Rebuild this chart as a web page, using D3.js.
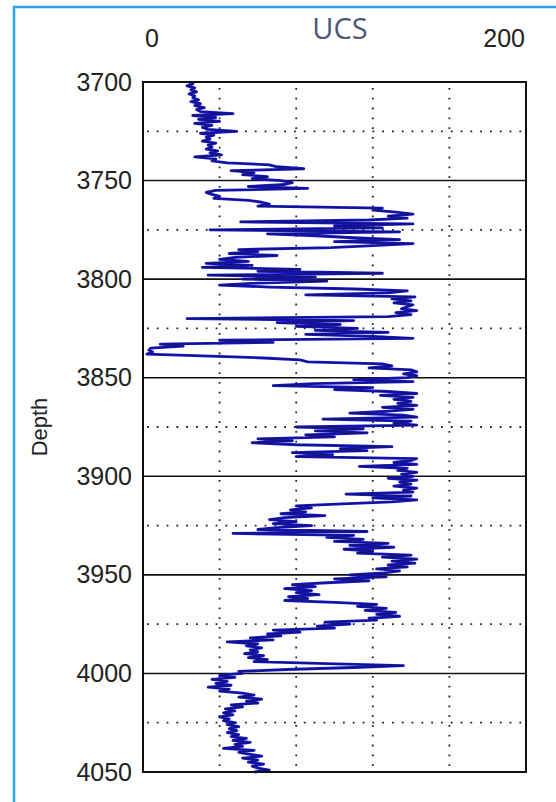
<!DOCTYPE html>
<html>
<head>
<meta charset="utf-8">
<script src="https://cdn.jsdelivr.net/npm/d3@7"></script>
<style>
  body { margin: 0; background: #fff; }
  svg { display: block; }
  .axis text { font-family: 'Liberation Sans', Arial, sans-serif; font-size: 25px; fill: #222; }
</style>
</head>
<body>
<svg id="chart" width="556" height="802"></svg>
<script>
/* global d3 */
'use strict';

// log sampling: one reading per foot, starting at the top of the interval
const depthTop = 3700;
const depthStep = 1;

// UCS readings, ten per row (3700-3709, 3710-3719, ...)
const ucsValues = [
  24, 26, 23, 27, 25, 28, 24, 27, 26, 29,
  25, 30, 27, 32, 28, 30, 47, 26, 38, 29,
  40, 27, 36, 31, 34, 49, 30, 37, 33, 35,
  31, 38, 34, 36, 33, 39, 35, 41, 27, 38,
  36, 44, 66, 70, 84, 46, 58, 52, 65, 57,
  72, 78, 74, 55, 86, 38, 33, 36, 40, 37,
  55, 62, 66, 60, 125, 120, 132, 141, 128, 138,
  118, 51, 141, 100, 125, 35, 134, 65, 90, 110,
  134, 100, 141, 120, 98, 50, 60, 45, 70, 48,
  40, 55, 33, 57, 31, 82, 60, 125, 34, 90,
  52, 96, 60, 40, 66, 111, 138, 128, 85, 142,
  130, 140, 131, 141, 138, 135, 143, 132, 140, 128,
  23, 110, 70, 103, 80, 112, 90, 128, 85, 120,
  141, 40, 68, 9, 21, 4, 3, 5, 2, 35,
  63, 82, 86, 125, 130, 118, 140, 143, 136, 143,
  138, 110, 141, 89, 68, 120, 100, 128, 143, 124,
  141, 131, 140, 133, 143, 125, 141, 128, 108, 136,
  143, 94, 140, 131, 143, 80, 115, 90, 117, 85,
  100, 60, 78, 57, 80, 130, 103, 117, 78, 99,
  80, 143, 140, 131, 143, 113, 138, 133, 143, 135,
  141, 128, 143, 134, 140, 131, 143, 136, 141, 106,
  140, 120, 143, 130, 104, 80, 88, 77, 85, 72,
  95, 74, 66, 80, 68, 88, 70, 60, 117, 47,
  110, 96, 115, 100, 128, 108, 131, 105, 120, 112,
  140, 125, 143, 130, 142, 128, 138, 122, 134, 126,
  108, 127, 100, 118, 96, 78, 90, 74, 88, 80,
  92, 76, 86, 74, 100, 122, 112, 127, 116, 132,
  122, 134, 118, 122, 95, 108, 91, 100, 68, 82,
  65, 72, 56, 68, 44, 60, 54, 62, 56, 60,
  53, 63, 55, 65, 58, 96, 136, 110, 75, 50,
  52, 40, 48, 36, 44, 38, 46, 34, 45, 40,
  52, 58, 50, 62, 54, 60, 46, 52, 43, 48,
  42, 47, 40, 45, 42, 48, 44, 50, 45, 49,
  44, 50, 46, 54, 47, 56, 48, 52, 42, 58,
  50, 56, 62, 52, 60, 55, 63, 57, 60, 66,
  58
];

// axis and grid values
const depthTicks = [3700, 3750, 3800, 3850, 3900, 3950, 4000, 4050];
const depthGridMajor = [3750, 3800, 3850, 3900, 3950, 4000];
const depthGridMinor = [3725, 3775, 3825, 3875, 3925, 3975, 4025];
const ucsGrid = [40, 80, 120, 160];
const ucsLabels = [0, 200];
const ucsDomain = [0, 200];
const depthDomain = [3700, 4050];

const svg = d3.select('#chart');

// plot box
const plotLeft = 143;
const plotTop = 82;
const plotWidth = 383;
const plotHeight = 690;

const x = d3.scaleLinear().domain(ucsDomain).range([plotLeft, plotLeft + plotWidth]);
const y = d3.scaleLinear().domain(depthDomain).range([plotTop, plotTop + plotHeight]);

const data = ucsValues.map(function(v, i) {
  return {depth: depthTop + i * depthStep, ucs: v};
});

// light blue frame of the screenshot
svg.append('path')
  .attr('d', 'M14,802 V7 H556')
  .attr('fill', 'none')
  .attr('stroke', '#2aa6e6')
  .attr('stroke-width', 2.5);

// dotted grid
const dotted = svg.append('g')
  .attr('stroke', '#222')
  .attr('stroke-width', 1.8)
  .attr('stroke-dasharray', '1.8 8');

dotted.selectAll('line.vgrid')
  .data(ucsGrid)
  .enter()
  .append('line')
  .attr('class', 'vgrid')
  .attr('x1', function(d) { return x(d); })
  .attr('x2', function(d) { return x(d); })
  .attr('y1', plotTop + 6)
  .attr('y2', plotTop + plotHeight);

dotted.selectAll('line.hgrid')
  .data(depthGridMinor)
  .enter()
  .append('line')
  .attr('class', 'hgrid')
  .attr('x1', plotLeft + 4)
  .attr('x2', plotLeft + plotWidth)
  .attr('y1', function(d) { return y(d); })
  .attr('y2', function(d) { return y(d); });

// solid depth lines every 50
svg.append('g')
  .selectAll('line')
  .data(depthGridMajor)
  .enter()
  .append('line')
  .attr('x1', plotLeft)
  .attr('x2', plotLeft + plotWidth)
  .attr('y1', function(d) { return y(d); })
  .attr('y2', function(d) { return y(d); })
  .attr('stroke', '#111')
  .attr('stroke-width', 1.6);

// the log curve: blue underlay with a dark navy line on top
const line = d3.line()
  .x(function(d) { return x(d.ucs); })
  .y(function(d) { return y(d.depth); });

svg.append('path')
  .datum(data)
  .attr('d', line)
  .attr('fill', 'none')
  .attr('stroke', '#1414d2')
  .attr('stroke-width', 2.8)
  .attr('stroke-linejoin', 'round');

svg.append('path')
  .datum(data)
  .attr('d', line)
  .attr('fill', 'none')
  .attr('stroke', '#15155c')
  .attr('stroke-width', 0.9);

// plot frame
svg.append('rect')
  .attr('x', plotLeft)
  .attr('y', plotTop)
  .attr('width', plotWidth)
  .attr('height', plotHeight)
  .attr('fill', 'none')
  .attr('stroke', '#111')
  .attr('stroke-width', 2);

// depth axis
const yAxis = d3.axisLeft(y)
  .tickValues(depthTicks)
  .tickSize(0)
  .tickPadding(11)
  .tickFormat(d3.format('d'));

svg.append('g')
  .attr('class', 'axis')
  .attr('transform', 'translate(' + plotLeft + ',0)')
  .call(yAxis)
  .call(function(g) { g.select('.domain').remove(); });

// scale labels at both ends of the track
svg.append('g')
  .attr('class', 'axis')
  .selectAll('text')
  .data(ucsLabels)
  .enter()
  .append('text')
  .attr('x', function(d, i) { return i === 0 ? x(d) + 2 : x(d) - 1; })
  .attr('y', 47)
  .attr('text-anchor', function(d, i) { return i === 0 ? 'start' : 'end'; })
  .text(function(d) { return d; });

// track title
svg.append('text')
  .attr('x', 340)
  .attr('y', 39)
  .attr('text-anchor', 'middle')
  .style('font-family', "'Open Sans', sans-serif")
  .style('font-size', '29px')
  .style('fill', '#4c5878')
  .text('UCS');

svg.append('text')
  .attr('transform', 'translate(47,' + (plotTop + plotHeight / 2) + ') rotate(-90)')
  .attr('text-anchor', 'middle')
  .style('font-family', "'Liberation Sans', Arial, sans-serif")
  .style('font-size', '22px')
  .style('fill', '#222')
  .text('Depth');
</script>
</body>
</html>
